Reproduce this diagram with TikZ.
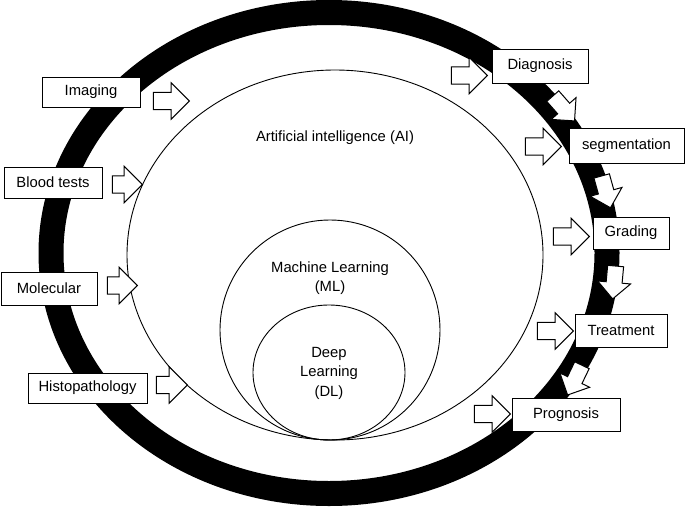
\documentclass[tikz,border=0pt]{standalone}
\usepackage{fontspec}
\setmainfont{Liberation Sans}
\usetikzlibrary{shapes.geometric,shapes.arrows}
\begin{document}
\begin{tikzpicture}[x=1pt,y=-1pt,
  txt/.style={font=\fontsize{14.8}{19.5}\selectfont, align=center, inner sep=0pt},
  lbox/.style={txt, draw, fill=white, line width=1pt, minimum height=#1},
  barrow/.style={single arrow, draw, fill=white, line width=1pt, inner sep=8.2pt,
     single arrow head extend=9.5pt, minimum height=#1, minimum width=35pt},
  darrow/.style={single arrow, draw, fill=white, line width=1pt, inner sep=7.5pt,
     single arrow head extend=8.5pt, minimum height=33pt, minimum width=32pt},
  set/.style={ellipse, draw, line width=0.9pt, inner sep=0pt}
]
\useasboundingbox (0,0) rectangle (685,506);
% outer ring
\draw[line width=25pt] (329,253) ellipse [x radius=278pt, y radius=240.5pt];
% nested sets
\node[set, minimum width=416pt, minimum height=370pt] (ai) at (335,255) {};
\node[set, minimum width=220pt, minimum height=220pt] (ml) at (330,330) {};
\node[set, minimum width=152pt, minimum height=135pt] (dl) at (329,372.5) {};
\node[txt] (ait) at (335,138) {Artificial intelligence (AI)};
\node[txt] (mlt) at (330,278) {Machine Learning\\(ML)};
\node[txt] (dlt) at (329,373) {Deep\\Learning\\(DL)};
% input boxes
\node[lbox=30pt, minimum width=98pt] (img) at (91,92) {Imaging};
\node[lbox=31pt, minimum width=98pt] (blood) at (53,182.5) {Blood tests};
\node[lbox=33pt, minimum width=96pt] (mol) at (49,288.5) {Molecular};
\node[lbox=30pt, minimum width=119pt] (histo) at (87.5,388) {Histopathology};
% input arrows
\node[barrow=36pt] (aimg) at (167,101) {};
\node[barrow=30pt] (ablood) at (123,184.5) {};
\node[barrow=30pt] (amol) at (118,285.5) {};
\node[barrow=31pt] (ahisto) at (167.5,385) {};
% output arrows
\node[barrow=36pt] (adiag) at (465,75.5) {};
\node[barrow=36pt] (aseg) at (539,146.5) {};
\node[barrow=36pt] (agrad) at (567,236.5) {};
\node[barrow=36pt] (atreat) at (551,331) {};
\node[barrow=36pt] (aprog) at (488,414) {};
% chain arrows
\node[darrow, rotate=-48.7] (d1) at (561,105.5) {};
\node[darrow, rotate=-74.5] (d2) at (605,188) {};
\node[darrow, rotate=-95.2] (d3) at (614.5,278.5) {};
\node[darrow, rotate=-115.7] (d4) at (576.5,376.5) {};
% output boxes
\node[lbox=34pt, minimum width=96pt] (diag) at (540,66) {Diagnosis};
\node[lbox=35pt, minimum width=115pt] (seg) at (626.5,145.5) {segmentation};
\node[lbox=32pt, minimum width=76pt] (grad) at (631,233) {Grading};
\node[lbox=33pt, minimum width=92pt] (treat) at (621,330.5) {Treatment};
\node[lbox=33pt, minimum width=108pt] (prog) at (566,414.5) {Prognosis};
\end{tikzpicture}
\end{document}
